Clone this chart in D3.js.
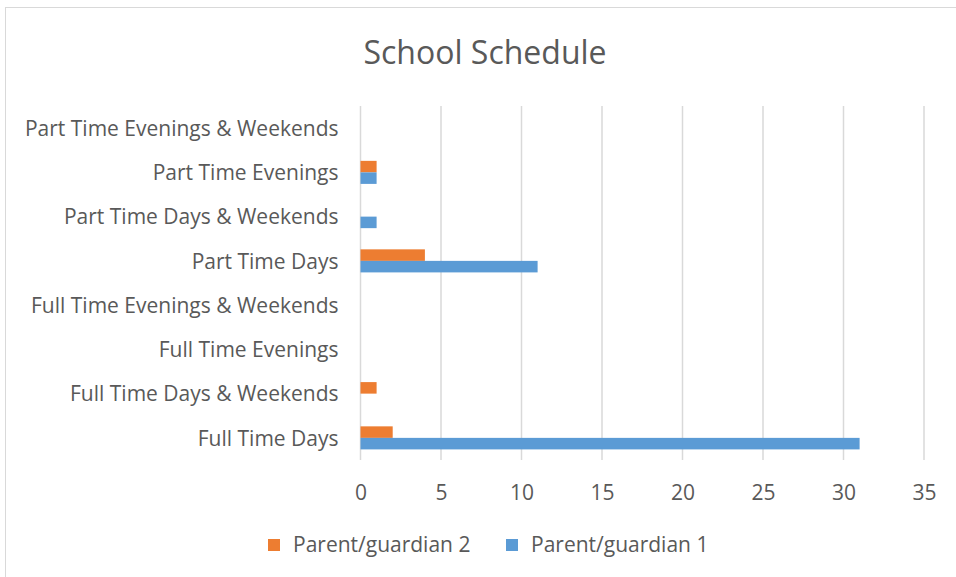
<!DOCTYPE html>
<html>
<head>
<meta charset="utf-8">
<script src="https://cdn.jsdelivr.net/npm/d3@7"></script>
<style>
  body { margin: 0; background: #fff; }
  svg { display: block; font-family: 'Open Sans', sans-serif; }
</style>
</head>
<body>
<svg width="956" height="577"></svg>
<script>
const width = 956,
  height = 577;

// Categories listed bottom-to-top as in the source sheet
const categories = [
  'Full Time Days',
  'Full Time Days & Weekends',
  'Full Time Evenings',
  'Full Time Evenings & Weekends',
  'Part Time Days',
  'Part Time Days & Weekends',
  'Part Time Evenings',
  'Part Time Evenings & Weekends',
];
const guardian1 = [31, 0, 0, 0, 11, 1, 1, 0];
const guardian2 = [2, 1, 0, 0, 4, 0, 1, 0];
const seriesNames = ['Parent/guardian 1', 'Parent/guardian 2'];
const xTicks = [0, 5, 10, 15, 20, 25, 30, 35];

const colors = { 'Parent/guardian 1': '#5b9bd5', 'Parent/guardian 2': '#ed7d31' };
const textColor = '#595959';
const labelSize = 21;

const svg = d3.select('svg');

// chart frame
svg
  .append('rect')
  .attr('x', 5.5)
  .attr('y', 7.5)
  .attr('width', width + 10)
  .attr('height', height + 10)
  .attr('fill', '#fff')
  .attr('stroke', '#d9d9d9');

svg
  .append('text')
  .attr('x', 485)
  .attr('y', 51)
  .attr('text-anchor', 'middle')
  .attr('dominant-baseline', 'central')
  .attr('fill', textColor)
  .attr('font-size', 32)
  .text('School Schedule');

const margin = { left: 360.5, right: 32, top: 106, bottom: 117 };
const x = d3
  .scaleLinear()
  .domain([0, 35])
  .range([margin.left, width - margin.right]);
const y = d3
  .scaleBand()
  .domain(categories.slice().reverse())
  .range([margin.top, height - margin.bottom]);
const ySub = d3
  .scaleBand()
  .domain(['Parent/guardian 2', 'Parent/guardian 1'])
  .range([0, y.bandwidth()])
  .paddingOuter(0.92);

// vertical gridlines
svg
  .append('g')
  .selectAll('line')
  .data(xTicks)
  .join('line')
  .attr('x1', (d) => x(d))
  .attr('x2', (d) => x(d))
  .attr('y1', margin.top)
  .attr('y2', height - margin.bottom)
  .attr('stroke', '#d9d9d9')
  .attr('stroke-width', 1.5);

const rows = categories.map((c, i) => ({
  category: c,
  values: [
    { key: 'Parent/guardian 2', value: guardian2[i] },
    { key: 'Parent/guardian 1', value: guardian1[i] },
  ],
}));

svg
  .append('g')
  .selectAll('g')
  .data(rows)
  .join('g')
  .attr('transform', (d) => `translate(0,${y(d.category)})`)
  .selectAll('rect')
  .data((d) => d.values.filter((v) => v.value > 0))
  .join('rect')
  .attr('x', x(0))
  .attr('y', (d) => ySub(d.key))
  .attr('width', (d) => x(d.value) - x(0))
  .attr('height', ySub.bandwidth())
  .attr('fill', (d) => colors[d.key]);

// category labels
const yAxis = svg
  .append('g')
  .attr('transform', `translate(${margin.left - 22},1)`)
  .call(d3.axisLeft(y).tickSize(0).tickPadding(0));
yAxis.select('.domain').remove();
yAxis
  .selectAll('text')
  .attr('fill', textColor)
  .attr('font-size', labelSize)
  .attr('font-family', "'Open Sans', sans-serif");

// value labels
const xAxis = svg
  .append('g')
  .attr('transform', `translate(0,${height - margin.bottom})`)
  .call(d3.axisBottom(x).tickValues(xTicks).tickSize(0).tickPadding(25));
xAxis.select('.domain').remove();
xAxis
  .selectAll('text')
  .attr('fill', textColor)
  .attr('font-size', labelSize)
  .attr('font-family', "'Open Sans', sans-serif");

// legend
const legendItems = [
  { key: 'Parent/guardian 2', x: 268 },
  { key: 'Parent/guardian 1', x: 506 },
];
const legend = svg
  .append('g')
  .selectAll('g')
  .data(legendItems)
  .join('g')
  .attr('transform', (d) => `translate(${d.x},545)`);
legend
  .append('rect')
  .attr('y', -6)
  .attr('width', 12)
  .attr('height', 12)
  .attr('fill', (d) => colors[d.key]);
legend
  .append('text')
  .attr('x', 25)
  .attr('dy', '0.35em')
  .attr('fill', textColor)
  .attr('font-size', labelSize)
  .text((d) => d.key);
</script>
</body>
</html>
